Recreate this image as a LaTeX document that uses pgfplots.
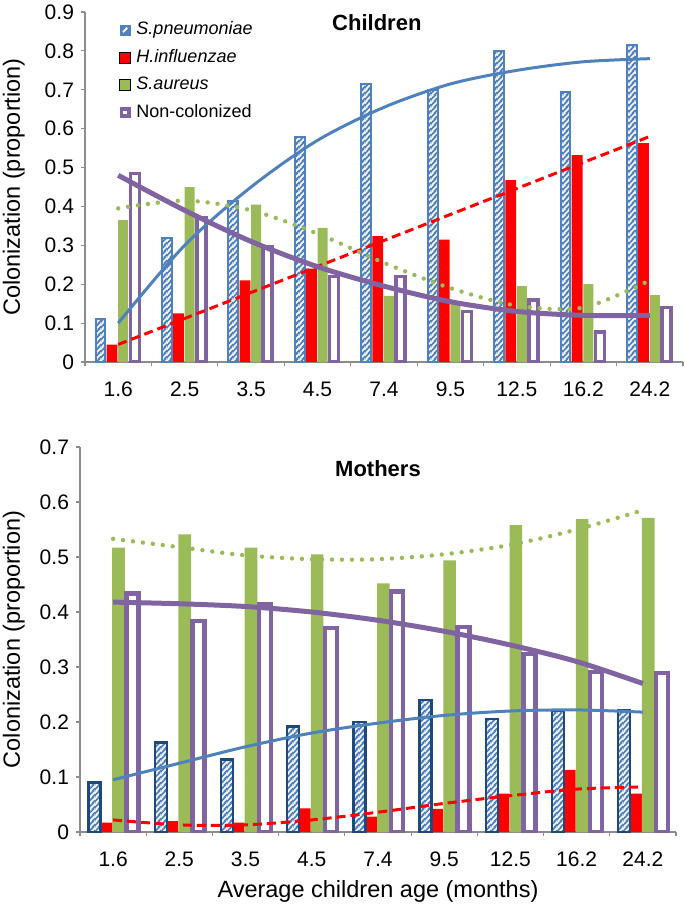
\documentclass[border=0pt]{standalone}
\usepackage{fontspec}
\setmainfont{Liberation Sans}
\usepackage{pgfplots}
\pgfplotsset{compat=1.18}
\usetikzlibrary{patterns.meta}

\definecolor{cblue}{HTML}{4F81BD}
\definecolor{cnavy}{HTML}{1F497D}
\definecolor{cred}{HTML}{FF0000}
\definecolor{cgreen}{HTML}{9BBB59}
\definecolor{cpurple}{HTML}{8064A2}
\definecolor{axisgray}{HTML}{8C8C8C}

% white diagonal stripes, laid over the blue bars
\tikzdeclarepattern{
  name=wlines,
  type=colored,
  bottom left={(0pt,0pt)},
  top right={(3pt,3pt)},
  tile size={(3pt,3pt)},
  code={
    \draw[white, line width=0.85pt] (-1pt,-1pt) -- (4pt,4pt);
    \draw[white, line width=0.85pt] (-1pt,2pt) -- (1pt,4pt);
    \draw[white, line width=0.85pt] (2pt,-1pt) -- (4pt,1pt);
  }
}

\pgfplotsset{
  colbase/.style={
    scale only axis,
    xmin=0.5, xmax=9.5, ymin=0,
    axis x line*=bottom, axis y line*=left,
    axis line style={draw=axisgray, line width=0.6pt, -},
    tick style={draw=axisgray, line width=0.6pt},
    tick align=outside, major tick length=2pt,
    xtick={0.5,1.5,...,9.5}, xticklabels={},
    extra x ticks={1,...,9},
    extra x tick labels={1.6,2.5,3.5,4.5,7.4,9.5,12.5,16.2,24.2},
    extra x tick style={major tick length=0pt},
    xticklabel style={yshift=-6.5pt},
    ytick distance=0.1,
    yticklabel style={/pgf/number format/fixed, /pgf/number format/precision=1},
    /pgf/number format/assume math mode=true,
    tick label style={font=\fontsize{10.5}{12}\selectfont},
    label style={font=\fontsize{11.75}{14}\selectfont},
  },
  % children bars
  barSpn/.style={ybar, bar width=4.9pt, bar shift=-8.9pt, fill=cblue, draw=cblue, line width=1pt},
  hatchSpn/.style={ybar, bar width=4.9pt, bar shift=-8.9pt, pattern=wlines, draw=cblue, line width=1pt, forget plot},
  barHin/.style={ybar, bar width=5.4pt, bar shift=-3.1pt, fill=cred, draw=none},
  barSau/.style={ybar, bar width=5pt, bar shift=2.5pt, fill=cgreen, draw=none},
  barNon/.style={ybar, bar width=4.5pt, bar shift=8.3pt, fill=white, draw=cpurple, line width=1.8pt},
  % mothers bars
  mSpn/.style={ybar, bar width=6pt, bar shift=-9.3pt, fill=cblue, draw=cnavy, line width=1.2pt},
  mhatchSpn/.style={ybar, bar width=6pt, bar shift=-9.3pt, pattern=wlines, draw=cnavy, line width=1.2pt, forget plot},
  mHin/.style={ybar, bar width=5.5pt, bar shift=-3.3pt, fill=cred, draw=none},
  mSau/.style={ybar, bar width=6.3pt, bar shift=2.7pt, fill=cgreen, draw=none},
  mNon/.style={ybar, bar width=6pt, bar shift=9.6pt, fill=white, draw=cpurple, line width=2.2pt},
  % trend lines
  trSpn/.style={smooth, cblue, line width=1.5pt, forget plot},
  trHin/.style={smooth, cred, line width=1.5pt, dash pattern=on 4.5pt off 2.5pt, forget plot},
  trSau/.style={smooth, cgreen, line width=2.2pt, line cap=round, dash pattern=on 0pt off 5pt, forget plot},
  trNon/.style={smooth, cpurple, line width=2.5pt, forget plot},
}

\begin{document}
\begin{tikzpicture}
% Children
\begin{axis}[colbase, at={(0pt,0pt)}, anchor=south west,
  width=299pt, height=175pt, ymax=0.9,
  ylabel={Colonization (proportion)},
  ylabel style={at={(axis description cs:-0.119,0.5)}, anchor=center},
  legend image code/.code={\draw[#1] (0pt,-2.75pt) rectangle (5.5pt,2.75pt);},
  legend style={draw=none, fill=none, at={(0.0565,0.989)}, anchor=north west,
    inner sep=0pt, row sep=0pt, font=\fontsize{9}{11}\selectfont,
    nodes={inner sep=2.75pt, text height=6.5pt, text depth=1.75pt}},
  legend cell align=left]
\addplot[barSpn, legend image code/.code={
    \draw[fill=cblue, draw=cblue, line width=0.8pt] (0.4pt,-2.35pt) rectangle (5.1pt,2.35pt);
    \draw[white, line width=0.9pt] (1.7pt,-1.1pt) -- (3.8pt,1.1pt);}]
  coordinates {(1,0.11)(2,0.32)(3,0.415)(4,0.578)(5,0.715)(6,0.70)(7,0.80)(8,0.695)(9,0.815)};
\addplot[barHin] coordinates {(1,0.045)(2,0.125)(3,0.21)(4,0.24)(5,0.324)(6,0.315)(7,0.468)(8,0.532)(9,0.563)};
\addplot[barSau] coordinates {(1,0.365)(2,0.45)(3,0.405)(4,0.345)(5,0.17)(6,0.15)(7,0.195)(8,0.20)(9,0.172)};
\addplot[barNon, legend image code/.code={
    \draw[fill=white, draw=cpurple, line width=1.8pt] (0.9pt,-1.85pt) rectangle (4.6pt,1.85pt);}]
  coordinates {(1,0.485)(2,0.37)(3,0.295)(4,0.22)(5,0.22)(6,0.13)(7,0.16)(8,0.077)(9,0.14)};
\addplot[hatchSpn] coordinates {(1,0.11)(2,0.32)(3,0.415)(4,0.578)(5,0.715)(6,0.70)(7,0.80)(8,0.695)(9,0.815)};
\addplot[trSpn] coordinates {(1,0.10)(2,0.30)(3,0.45)(4,0.57)(5,0.655)(6,0.715)(7,0.75)(8,0.772)(9,0.78)};
\addplot[trHin] coordinates {(1,0.045)(9,0.58)};
\addplot[trSau] coordinates {(1,0.395)(2,0.415)(3,0.39)(4,0.33)(5,0.255)(6,0.19)(7,0.145)(8,0.14)(9,0.21)};
\addplot[trNon] coordinates {(1,0.48)(2,0.39)(3,0.31)(4,0.245)(5,0.195)(6,0.155)(7,0.13)(8,0.12)(9,0.12)};
\legend{\textit{S.pneumoniae}, \textit{H.influenzae}, \textit{S.aureus}, Non-colonized}
\node[font=\bfseries\fontsize{11}{13}\selectfont] at (axis description cs:0.488,0.969) {Children};
\end{axis}
% Mothers
\begin{axis}[colbase, at={(-2.5pt,-235pt)}, anchor=south west,
  width=298pt, height=192.5pt, ymax=0.7,
  ylabel={Colonization (proportion)},
  ylabel style={at={(axis description cs:-0.111,0.5)}, anchor=center},
  xlabel={Average children age (months)},
  xlabel style={at={(axis description cs:0.5,0)}, anchor=center, yshift=-29.5pt}]
\addplot[mSpn] coordinates {(1,0.09)(2,0.163)(3,0.132)(4,0.192)(5,0.20)(6,0.24)(7,0.205)(8,0.22)(9,0.222)};
\addplot[mHin] coordinates {(1,0.017)(2,0.02)(3,0.017)(4,0.043)(5,0.028)(6,0.042)(7,0.07)(8,0.113)(9,0.07)};
\addplot[mSau] coordinates {(1,0.517)(2,0.541)(3,0.517)(4,0.505)(5,0.452)(6,0.494)(7,0.558)(8,0.569)(9,0.571)};
\addplot[mNon] coordinates {(1,0.434)(2,0.384)(3,0.414)(4,0.371)(5,0.437)(6,0.373)(7,0.324)(8,0.291)(9,0.289)};
\addplot[mhatchSpn] coordinates {(1,0.09)(2,0.163)(3,0.132)(4,0.192)(5,0.20)(6,0.24)(7,0.205)(8,0.22)(9,0.222)};
\addplot[trSpn] coordinates {(1,0.095)(2,0.125)(3,0.155)(4,0.18)(5,0.198)(6,0.212)(7,0.22)(8,0.222)(9,0.218)};
\addplot[trHin] coordinates {(1,0.022)(2,0.013)(3,0.013)(4,0.022)(5,0.036)(6,0.052)(7,0.066)(8,0.078)(9,0.082)};
\addplot[trSau] coordinates {(1,0.533)(2,0.518)(3,0.503)(4,0.496)(5,0.496)(6,0.505)(7,0.522)(8,0.55)(9,0.585)};
\addplot[trNon] coordinates {(1,0.418)(2,0.415)(3,0.41)(4,0.40)(5,0.385)(6,0.365)(7,0.34)(8,0.31)(9,0.27)};
\node[font=\bfseries\fontsize{11}{13}\selectfont] at (axis description cs:0.5,0.943) {Mothers};
\end{axis}
\pgfresetboundingbox
\path (-42.5pt,-271.5pt) rectangle (300pt,181pt);
\end{tikzpicture}
\end{document}
